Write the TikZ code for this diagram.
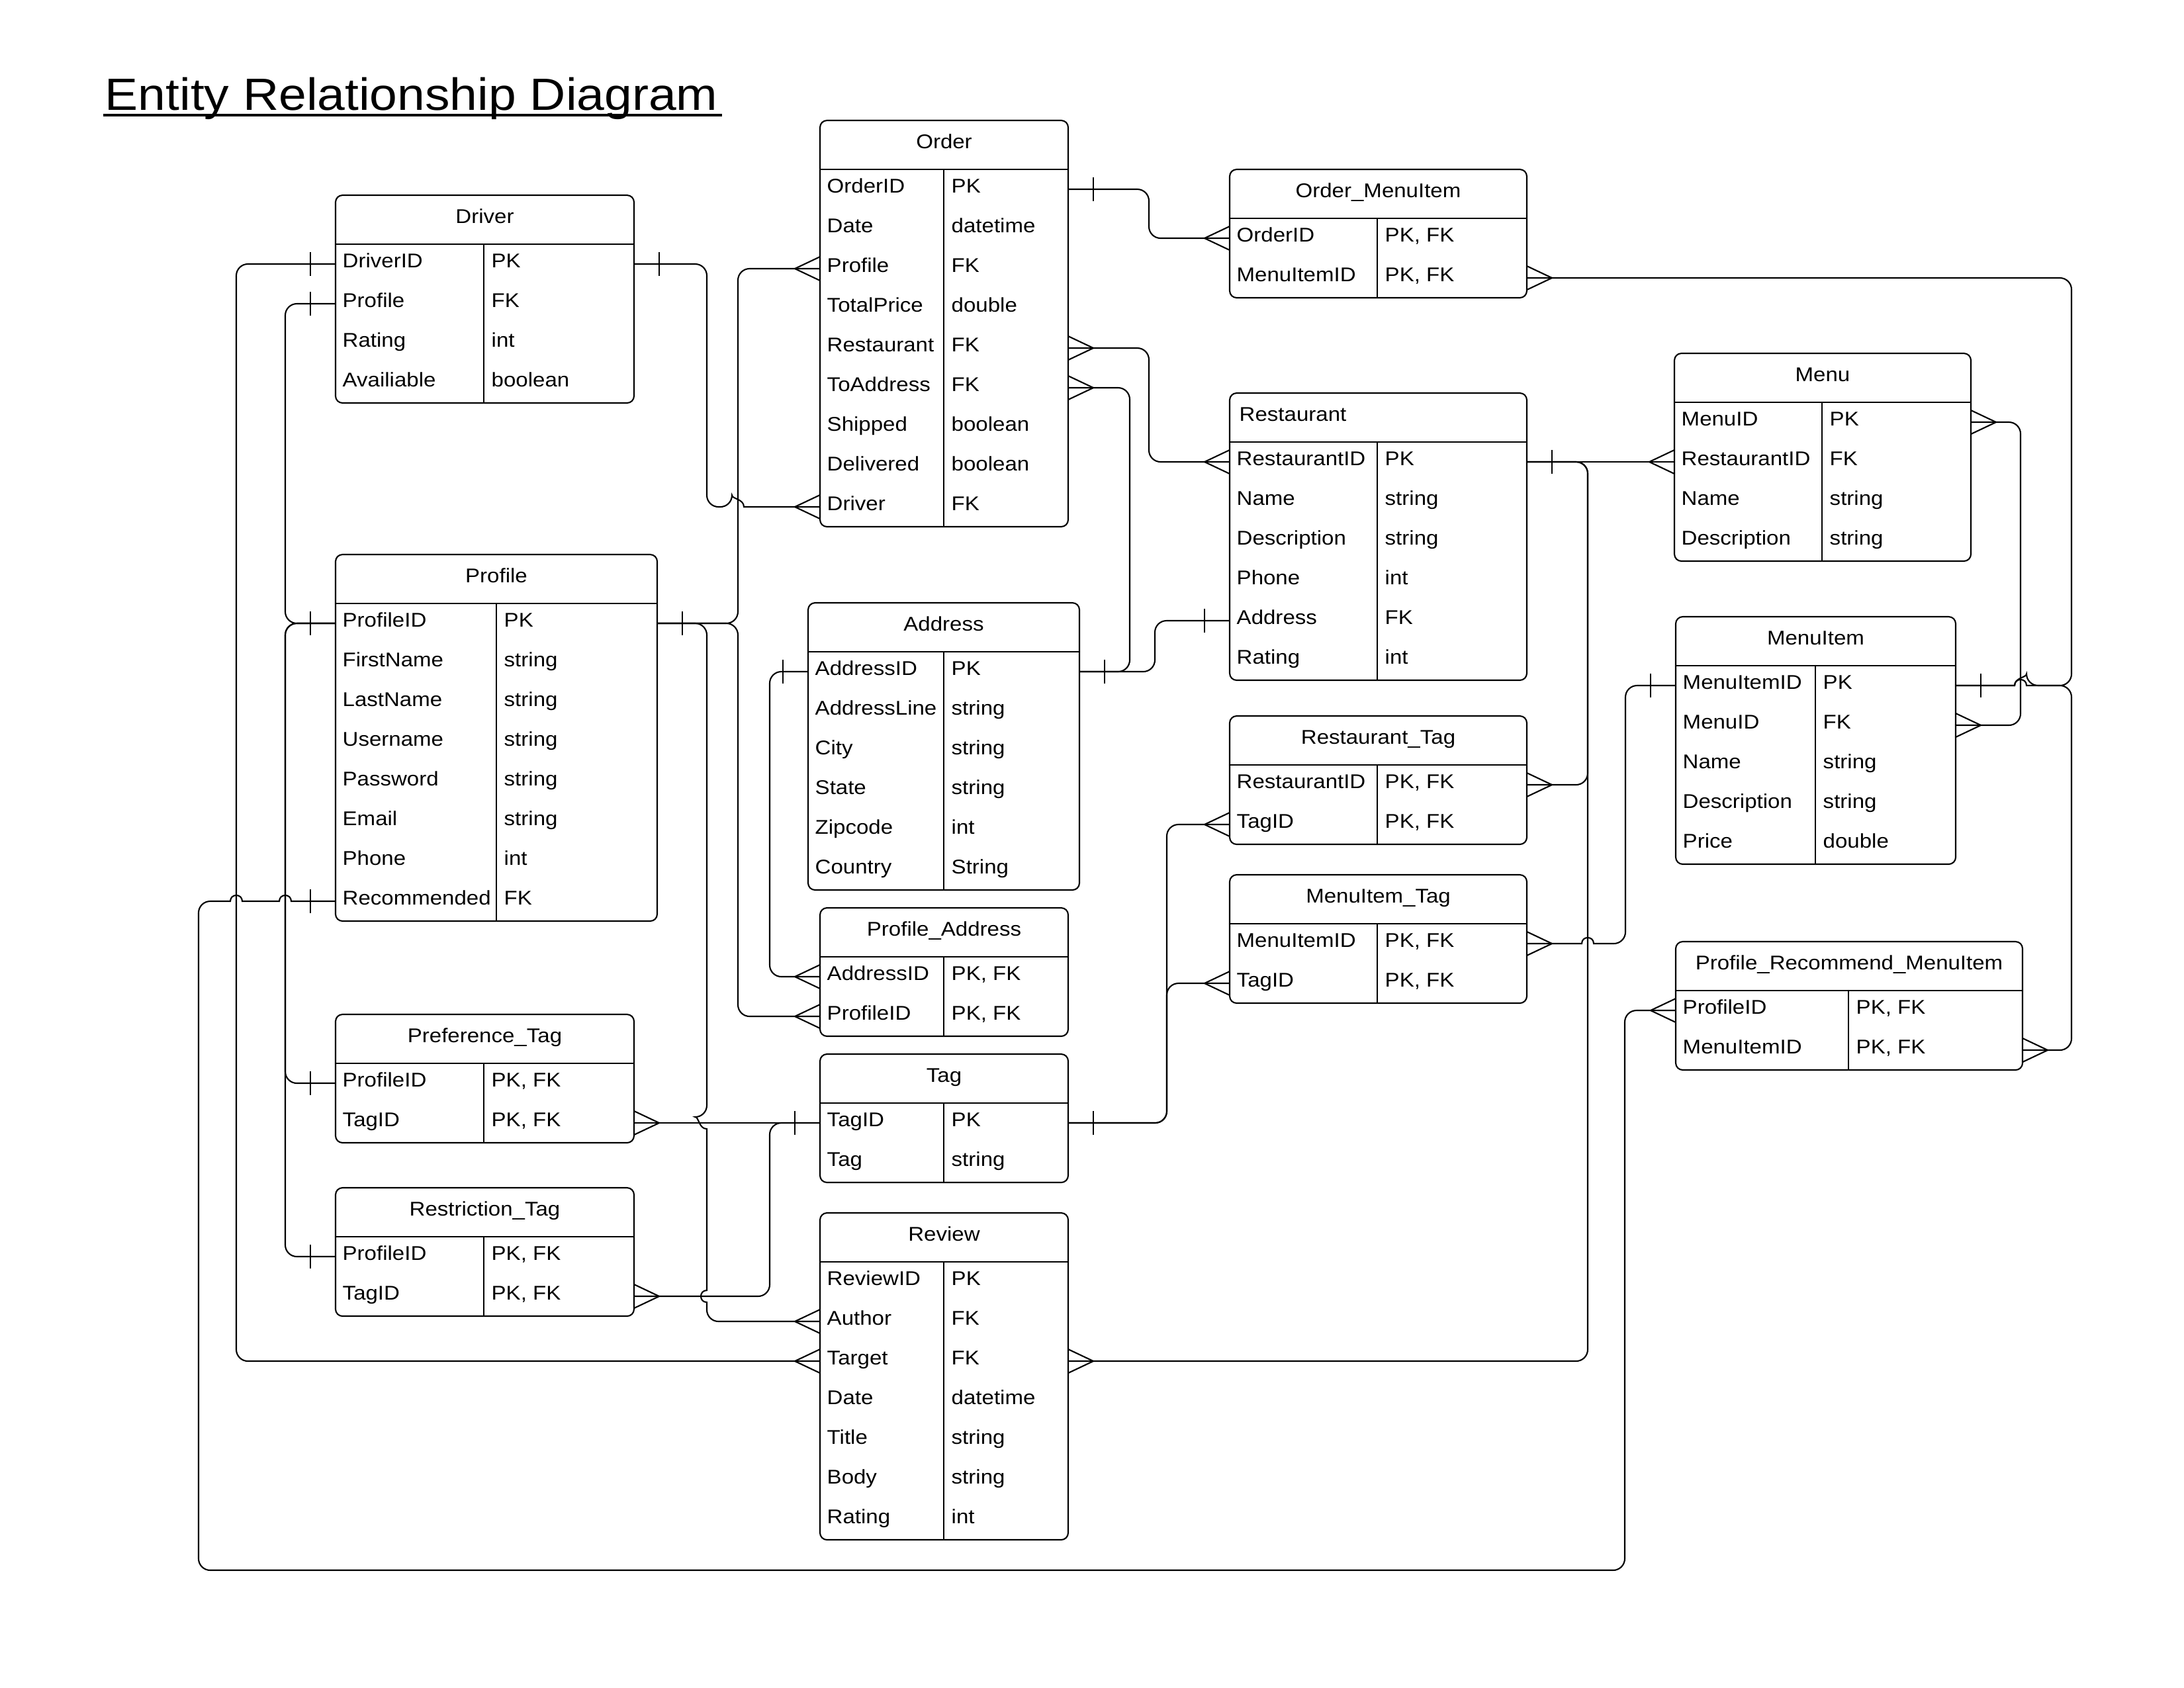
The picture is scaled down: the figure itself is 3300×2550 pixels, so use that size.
\documentclass[tikz,border=0pt]{standalone}
\usepackage{fontspec}
\setmainfont{Liberation Sans}[FakeStretch=1.1]
\usetikzlibrary{calc}
\tikzset{
  tblline/.style={line width=0.6pt},
  conn/.style={line width=0.6pt, rounded corners=5pt},
  mk/.style={line width=0.6pt},
  hdr/.style={anchor=base, inner sep=0pt, font=\fontsize{8.54}{10}\selectfont},
  cell/.style={anchor=base west, inner sep=0pt, font=\fontsize{8.54}{10}\selectfont},
}
\newcommand{\mkBarE}[1]{\draw[mk] ($(#1)+(38,-18)$) -- ($(#1)+(38,18)$);}
\newcommand{\mkBarW}[1]{\draw[mk] ($(#1)+(-38,-18)$) -- ($(#1)+(-38,18)$);}
\newcommand{\mkCrowE}[1]{\draw[mk] ($(#1)+(0,-18)$) -- ($(#1)+(38,0)$) -- ($(#1)+(0,18)$);}
\newcommand{\mkCrowW}[1]{\draw[mk] ($(#1)+(0,-18)$) -- ($(#1)+(-38,0)$) -- ($(#1)+(0,18)$);}
% #1 name #2 L #3 R #4 T #5 divider #6 nrows #7 title #8 rows
\newcommand{\erTable}[8]{%
  \pgfmathsetmacro{\erBot}{#4+74+60*#6}
  \draw[tblline, rounded corners=3pt] (#2,#4) rectangle (#3,\erBot);
  \draw[tblline] (#2,{#4+74}) -- (#3,{#4+74});
  \draw[tblline] (#5,{#4+74}) -- (#5,\erBot);
  \node[hdr] (#1) at ({(#2+#3)/2},{#4+42}) {#7};
  \foreach \erKey/\erTyp [count=\erIdx from 0] in {#8}{
    \coordinate (#1-\erIdx-W) at (#2,{#4+104+60*\erIdx});
    \coordinate (#1-\erIdx-E) at (#3,{#4+104+60*\erIdx});
    \node[cell] (#1-\erIdx-a) at ({#2+10},{#4+109+60*\erIdx}) {\erKey};
    \node[cell] (#1-\erIdx-b) at ({#5+11},{#4+109+60*\erIdx}) {\erTyp};
  }
}
\begin{document}
\begin{tikzpicture}[x=0.01cm, y=-0.01cm]
\useasboundingbox (0,0) rectangle (3300,2550);

% title
\node[anchor=base west, inner sep=0pt, font=\fontsize{19.4}{22}\selectfont] (title) at (158,166) {Entity Relationship Diagram};
\draw[line width=1pt] ($(title.base west)+(-2,8)$) -- ($(title.base east)+(6,8)$);

% tables
\erTable{Driver}{507}{958}{295}{731}{4}{Driver}{DriverID/PK, Profile/FK, Rating/int, Availiable/boolean}
\erTable{Order}{1239}{1614}{182}{1426}{9}{Order}{OrderID/PK, Date/datetime, Profile/FK, TotalPrice/double, Restaurant/FK, ToAddress/FK, Shipped/boolean, Delivered/boolean, Driver/FK}
\erTable{OrderMenuItem}{1858}{2307}{256}{2081}{2}{Order\_MenuItem}{OrderID/{PK, FK}, MenuItemID/{PK, FK}}
\erTable{Menu}{2530}{2978}{534}{2753}{4}{Menu}{MenuID/PK, RestaurantID/FK, Name/string, Description/string}
\erTable{Restaurant}{1858}{2307}{594}{2081}{6}{}{RestaurantID/PK, Name/string, Description/string, Phone/int, Address/FK, Rating/int}
\node[hdr, anchor=base west] (RestaurantTitle) at (1872,636) {Restaurant};
\erTable{Profile}{507}{993}{838}{750}{8}{Profile}{ProfileID/PK, FirstName/string, LastName/string, Username/string, Password/string, Email/string, Phone/int, Recommended/FK}
\erTable{Address}{1221}{1631}{911}{1426}{6}{Address}{AddressID/PK, AddressLine/string, City/string, State/string, Zipcode/int, Country/String}
\erTable{MenuItem}{2532}{2955}{932}{2743}{5}{MenuItem}{MenuItemID/PK, MenuID/FK, Name/string, Description/string, Price/double}
\erTable{RestaurantTag}{1858}{2307}{1082}{2081}{2}{Restaurant\_Tag}{RestaurantID/{PK, FK}, TagID/{PK, FK}}
\erTable{MenuItemTag}{1858}{2307}{1322}{2081}{2}{MenuItem\_Tag}{MenuItemID/{PK, FK}, TagID/{PK, FK}}
\erTable{ProfileAddress}{1239}{1614}{1372}{1426}{2}{Profile\_Address}{AddressID/{PK, FK}, ProfileID/{PK, FK}}
\erTable{PRM}{2532}{3056}{1423}{2793}{2}{Profile\_Recommend\_MenuItem}{ProfileID/{PK, FK}, MenuItemID/{PK, FK}}
\erTable{PreferenceTag}{507}{958}{1533}{731}{2}{Preference\_Tag}{ProfileID/{PK, FK}, TagID/{PK, FK}}
\erTable{Tag}{1239}{1614}{1593}{1426}{2}{Tag}{TagID/PK, Tag/string}
\erTable{RestrictionTag}{507}{958}{1795}{731}{2}{Restriction\_Tag}{ProfileID/{PK, FK}, TagID/{PK, FK}}
\erTable{Review}{1239}{1614}{1833}{1426}{7}{Review}{ReviewID/PK, Author/FK, Target/FK, Date/datetime, Title/string, Body/string, Rating/int}

% connectors
% Order -> Order_MenuItem
\draw[conn] (Order-0-E) -- (1736,286) -- (1736,360) -- (OrderMenuItem-0-W);
\mkBarE{Order-0-E} \mkCrowW{OrderMenuItem-0-W}
% MenuItem -> Order_MenuItem
\draw[conn] (OrderMenuItem-1-E) -- (3130,420) -- (3130,1036) -- (3062,1036) [sharp corners] .. controls (3062,1024) and (3044,1024) .. (3044,1036) -- (MenuItem-0-E);
\mkCrowE{OrderMenuItem-1-E} \mkBarE{MenuItem-0-E}
% MenuItem -> Profile_Recommend_MenuItem
\draw[conn] (MenuItem-0-E) [sharp corners] -- (3044,1036) .. controls (3044,1024) and (3062,1024) .. (3062,1036) -- (3080,1036) [rounded corners=5pt] -- (3130,1036) -- (3130,1587) -- (PRM-1-E);
\mkCrowE{PRM-1-E}
% Menu -> MenuItem
\draw[conn] (Menu-0-E) -- (3053,638) -- (3053,1096) -- (MenuItem-1-E);
\mkCrowE{Menu-0-E} \mkCrowE{MenuItem-1-E}
% Restaurant -> Menu
\draw[conn] (Restaurant-0-E) -- (Menu-1-W);
\mkBarE{Restaurant-0-E} \mkCrowW{Menu-1-W}
% Restaurant -> Restaurant_Tag
\draw[conn] (Restaurant-0-E) -- (2399,698) -- (2399,1186) -- (RestaurantTag-0-E);
\mkCrowE{RestaurantTag-0-E}
% Restaurant -> Review.Target
\draw[conn] (Restaurant-0-E) -- (2399,698) -- (2399,2057) -- (Review-2-E);
\mkCrowE{Review-2-E}
% MenuItem -> MenuItem_Tag
\draw[conn] (MenuItemTag-0-E) [sharp corners] -- (2390,1426) .. controls (2390,1414) and (2408,1414) .. (2408,1426) -- (2420,1426) [rounded corners=5pt] -- (2456,1426) -- (2456,1036) -- (MenuItem-0-W);
\mkCrowE{MenuItemTag-0-E} \mkBarW{MenuItem-0-W}
% Tag -> Restaurant_Tag, MenuItem_Tag
\draw[conn] (RestaurantTag-1-W) -- (1763,1246) -- (1763,1697) -- (Tag-0-E);
\draw[conn] (MenuItemTag-1-W) -- (1763,1486) -- (1763,1697) -- (Tag-0-E);
\mkCrowW{RestaurantTag-1-W} \mkCrowW{MenuItemTag-1-W} \mkBarE{Tag-0-E}
% Order.Restaurant -> Restaurant
\draw[conn] (Order-4-E) -- (1736,526) -- (1736,698) -- (Restaurant-0-W);
\mkCrowE{Order-4-E} \mkCrowW{Restaurant-0-W}
% Order.ToAddress -> Address
\draw[conn] (Order-5-E) -- (1707,586) -- (1707,1015) -- (Address-0-E);
\mkCrowE{Order-5-E} \mkBarE{Address-0-E}
% Address -> Restaurant.Address
\draw[conn] (Address-0-E) -- (1745,1015) -- (1745,938) -- (Restaurant-4-W);
\mkBarW{Restaurant-4-W}
% Driver -> Order.Driver
\draw[conn] (Driver-0-E) -- (1068,399) -- (1068,766) -- (1106,766) [sharp corners] .. controls (1106,754) and (1124,754) .. (1124,766) -- (Order-8-W);
\mkBarE{Driver-0-E} \mkCrowW{Order-8-W}
% Driver -> Review.Target
\draw[conn] (Driver-0-W) -- (357,399) -- (357,2057) -- (Review-2-W);
\mkBarW{Driver-0-W} \mkCrowW{Review-2-W}
% Profile.ProfileID left bus
\draw[conn] (Driver-1-W) -- (431,459) -- (431,942) -- (Profile-0-W);
\draw[conn] (Profile-0-W) -- (431,942) -- (431,1637) -- (PreferenceTag-0-W);
\draw[conn] (Profile-0-W) -- (431,942) -- (431,1899) -- (RestrictionTag-0-W);
\mkBarW{Driver-1-W} \mkBarW{Profile-0-W} \mkBarW{PreferenceTag-0-W} \mkBarW{RestrictionTag-0-W}
% Profile.ProfileID right
\draw[conn] (Profile-0-E) -- (1115,942) -- (1115,406) -- (Order-2-W);
\draw[conn] (Profile-0-E) -- (1115,942) -- (1115,1536) -- (ProfileAddress-1-W);
\draw[conn] (Profile-0-E) -- (1068,942) -- (1068,1688) [sharp corners] .. controls (1056,1688) and (1056,1706) .. (1068,1706) -- (1068,1950) .. controls (1056,1950) and (1056,1968) .. (1068,1968) -- (1068,1975) [rounded corners=5pt] -- (1068,1997) -- (Review-1-W);
\mkBarE{Profile-0-E} \mkCrowW{Order-2-W} \mkCrowW{ProfileAddress-1-W} \mkCrowW{Review-1-W}
% Address -> Profile_Address
\draw[conn] (Address-0-W) -- (1163,1015) -- (1163,1476) -- (ProfileAddress-0-W);
\mkBarW{Address-0-W} \mkCrowW{ProfileAddress-0-W}
% Tag -> Preference_Tag, Restriction_Tag
\draw[conn] (PreferenceTag-1-E) -- (Tag-0-W);
\draw[conn] (RestrictionTag-1-E) -- (1163,1959) -- (1163,1697) -- (Tag-0-W);
\mkCrowE{PreferenceTag-1-E} \mkCrowE{RestrictionTag-1-E} \mkBarW{Tag-0-W}
% Profile.Recommended -> Profile_Recommend_MenuItem
\draw[conn] (Profile-7-W) [sharp corners] -- (440,1362) .. controls (440,1350) and (422,1350) .. (422,1362) -- (366,1362) .. controls (366,1350) and (348,1350) .. (348,1362) -- (330,1362) [rounded corners=5pt] -- (300,1362) -- (300,2373) -- (2455,2373) -- (2455,1527) -- (PRM-0-W);
\mkBarW{Profile-7-W} \mkCrowW{PRM-0-W}
\end{tikzpicture}
\end{document}
